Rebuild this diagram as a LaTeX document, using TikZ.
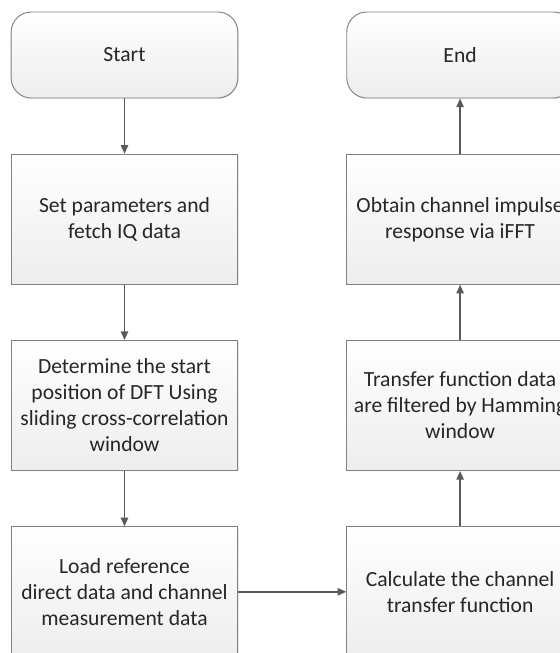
\documentclass[tikz,border=0pt]{standalone}
\usepackage{fontspec}
\setmainfont{Carlito}
\usetikzlibrary{positioning,arrows.meta,shadows}

\begin{document}
\begin{tikzpicture}[x=0.75pt, y=0.75pt, node distance=41.5pt and 81pt,
    box/.style={draw=black!50, line width=0.7pt, top color=white, bottom color=black!7,
        drop shadow={shadow xshift=0.6pt, shadow yshift=-0.6pt, fill=black!15},
        minimum width=170pt, text=black!85, font=\fontsize{16.2}{19.5}\selectfont, align=center},
    proc/.style={box, minimum height=97.5pt},
    term/.style={box, rounded corners=15pt, minimum height=64.5pt},
    flow/.style={draw=black!65, line width=1.1pt, -{Triangle[length=6.5pt,width=5.5pt]}}]
    \useasboundingbox (0,0) rectangle (560,-653);
    % left column, top to bottom
    \node[term] (start) at (124.5,-55) {Start};
    \node[proc, below=of start] (fetch) {Set parameters and\\fetch IQ data};
    \node[proc, below=of fetch] (sync) {Determine the start\\position of DFT Using\\sliding cross-correlation\\window};
    \node[proc, below=of sync] (load) {Load reference\\direct data and channel\\measurement data};
    % right column, bottom to top
    \node[proc, right=of load] (calc) {Calculate the channel\\transfer function};
    \node[proc, above=of calc] (filter) {Transfer function data\\are filtered by Hamming\\window};
    \node[proc, above=of filter] (ifft) {Obtain channel impulse\\response via iFFT};
    \node[term, above=of ifft] (end) {End};
    \draw[flow] (start) -- (fetch);
    \draw[flow] (fetch) -- (sync);
    \draw[flow] (sync) -- (load);
    \draw[flow] (load) -- (calc);
    \draw[flow] (calc) -- (filter);
    \draw[flow] (filter) -- (ifft);
    \draw[flow] (ifft) -- (end);
\end{tikzpicture}
\end{document}
